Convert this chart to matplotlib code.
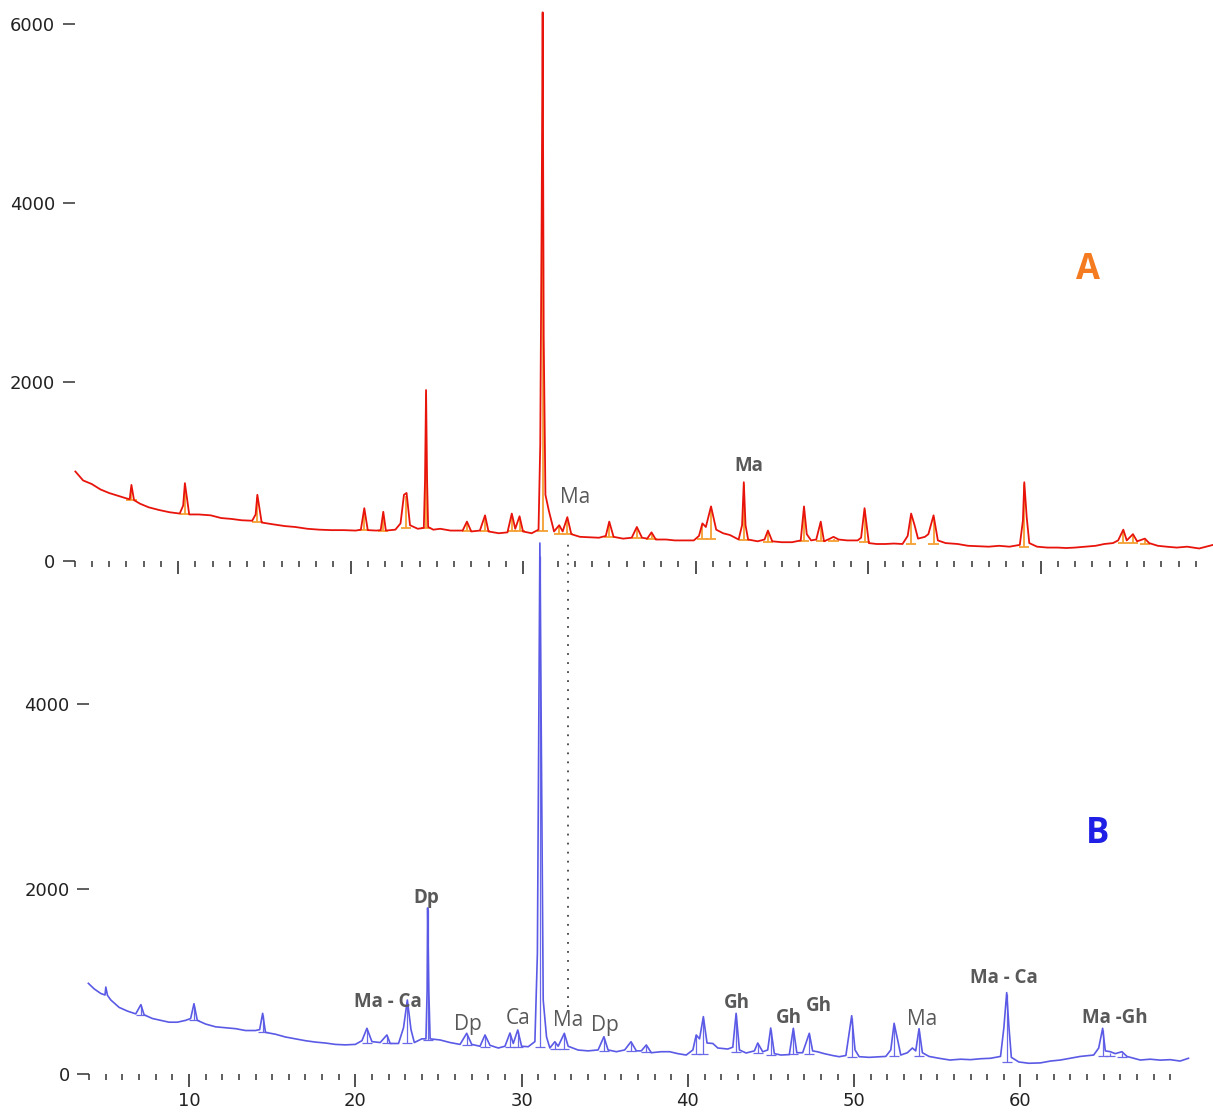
import numpy as np
import matplotlib
matplotlib.use("Agg")
import matplotlib.pyplot as plt
from matplotlib.ticker import FixedLocator

# ── 数据─────────────────────────────────────────────────────────────

# A：红色谱线 (2θ, 强度)
red_x = [4.05, 4.5, 5.0, 5.5, 6.0, 6.5, 7.0, 7.2, 7.3, 7.45, 7.8, 8.3, 8.9, 9.5, 10.1, 10.3, 10.4,
         10.65, 11.2, 11.9, 12.5, 13.1, 13.7, 14.3, 14.5, 14.6, 14.85, 15.5, 16.2, 16.8, 17.5, 18.2,
         18.9, 19.6, 20.3, 20.6, 20.8, 21.0, 21.5, 21.75, 21.9, 22.05, 22.6, 22.9, 23.1, 23.25, 23.45,
         23.9, 24.25, 24.32, 24.38, 24.44, 24.5, 24.8, 25.2, 25.8, 26.5, 26.75, 27.0, 27.5, 27.8, 28.0,
         28.6, 29.1, 29.35, 29.55, 29.8, 30.0, 30.5, 30.9, 31.0, 31.08, 31.14, 31.2, 31.3, 31.5, 31.8,
         32.1, 32.3, 32.57, 32.8, 33.3, 33.8, 34.4, 34.8, 35.0, 35.25, 35.8, 36.3, 36.6, 36.9, 37.2,
         37.45, 37.7, 38.3, 38.8, 39.3, 39.9, 40.2, 40.4, 40.6, 40.9, 41.2, 41.6, 42.0, 42.5, 42.7,
         42.8, 42.9, 43.05, 43.6, 44.0, 44.2, 44.45, 45.0, 45.6, 46.1, 46.29, 46.45, 46.7, 47.0, 47.26,
         47.45, 47.8, 48.0, 48.3, 48.8, 49.4, 49.6, 49.8, 50.05, 50.5, 51.0, 51.5, 52.0, 52.3, 52.5,
         52.7, 52.9, 53.3, 53.5, 53.8, 54.05, 54.5, 55.2, 55.8, 56.4, 57.0, 57.6, 58.2, 58.8, 58.98,
         59.06, 59.2, 59.35, 59.8, 60.4, 61.0, 61.5, 62.0, 62.6, 63.2, 63.7, 64.2, 64.5, 64.8, 65.0,
         65.36, 65.6, 66.05, 66.3, 66.8, 67.3, 67.9, 68.5, 69.2, 70.0]
red_y = [1000, 900, 860, 800, 760, 730, 700, 690, 850, 680, 640, 600, 570, 545, 530, 620, 870,
         520, 520, 510, 480, 470, 455, 450, 520, 740, 430, 410, 390, 380, 360, 350,
         345, 345, 340, 350, 590, 345, 340, 345, 550, 340, 350, 420, 740, 760, 400,
         360, 370, 900, 1910, 900, 380, 350, 360, 340, 340, 440, 330, 340, 510, 330,
         310, 320, 530, 360, 500, 330, 310, 350, 1300, 3800, 6130, 2500, 740, 560, 330,
         400, 330, 490, 300, 270, 265, 260, 280, 440, 270, 250, 260, 380, 260, 250,
         320, 240, 240, 230, 230, 230, 280, 420, 380, 610, 350, 310, 290, 240, 400,
         880, 400, 240, 220, 240, 340, 220, 210, 210, 230, 610, 300, 230, 240, 440,
         220, 250, 270, 240, 230, 230, 260, 590, 200, 190, 190, 195, 190, 280, 530,
         400, 250, 270, 300, 510, 230, 200, 190, 170, 165, 160, 170, 160, 180, 450,
         880, 490, 200, 160, 150, 150, 145, 150, 160, 170, 190, 200, 230, 350, 230,
         300, 220, 250, 200, 170, 160, 150, 160, 140, 180]

# B：蓝色谱线 (2θ, 强度)
blue_x = [3.95, 4.3, 4.7, 4.95, 5.0, 5.1, 5.3, 5.8, 6.3, 6.8, 7.11, 7.3, 7.8, 8.3, 8.8, 9.3, 9.8,
          10.1, 10.3, 10.5, 11.0, 11.6, 12.2, 12.8, 13.4, 14.0, 14.25, 14.43, 14.6, 15.2, 15.8, 16.4,
          17.0, 17.6, 18.2, 18.8, 19.4, 20.0, 20.4, 20.7, 21.0, 21.5, 21.9, 22.1, 22.6, 22.9, 23.13,
          23.35, 23.55, 24.0, 24.25, 24.32, 24.35, 24.42, 24.5, 25.1, 25.7, 26.3, 26.7, 27.0, 27.5,
          27.8, 28.1, 28.6, 29.0, 29.3, 29.5, 29.77, 30.0, 30.4, 30.8, 30.95, 31.05, 31.1, 31.18,
          31.3, 31.5, 31.7, 32.0, 32.2, 32.57, 32.8, 33.4, 34.0, 34.6, 34.95, 35.2, 35.7, 36.2, 36.58,
          36.9, 37.2, 37.5, 37.8, 38.4, 38.9, 39.4, 39.9, 40.3, 40.5, 40.7, 40.93, 41.15, 41.5, 41.8,
          42.4, 42.7, 42.9, 43.1, 43.5, 44.0, 44.2, 44.5, 44.8, 44.98, 45.2, 45.6, 46.1, 46.34, 46.55,
          46.9, 47.3, 47.5, 47.8, 48.2, 48.7, 49.1, 49.5, 49.85, 50.05, 50.3, 50.9, 51.4, 51.9, 52.2,
          52.4, 52.6, 52.8, 53.2, 53.5, 53.7, 53.9, 54.1, 54.5, 55.1, 55.76, 56.4, 57.0, 57.6, 58.2,
          58.8, 59.0, 59.17, 59.3, 59.45, 59.9, 60.5, 61.2, 61.8, 62.4, 63.0, 63.6, 64.4, 64.7, 64.94,
          65.1, 65.4, 65.7, 66.1, 66.4, 66.8, 67.2, 67.8, 68.4, 69.0, 69.6, 70.1]
blue_y = [980, 920, 870, 854, 940, 850, 800, 720, 680, 650, 750, 640, 600, 580, 560, 560, 580,
          600, 760, 580, 540, 510, 500, 490, 470, 470, 480, 656, 450, 430, 400, 380,
          360, 345, 335, 320, 315, 320, 360, 494, 350, 340, 422, 330, 330, 500, 800,
          480, 340, 380, 380, 900, 1795, 900, 380, 368, 340, 320, 440, 320, 300,
          422, 310, 281, 300, 443, 330, 476, 300, 295, 350, 1300, 4200, 5740, 3800,
          800, 400, 281, 349, 300, 440, 300, 259, 250, 260, 403, 260, 241, 260, 349,
          250, 250, 314, 230, 241, 241, 220, 205, 260, 422, 380, 620, 335, 330, 281,
          270, 290, 656, 260, 227, 250, 335, 240, 260, 497, 220, 205, 210, 494, 230,
          230, 440, 250, 240, 220, 200, 187, 200, 630, 260, 187, 180, 185, 190, 260,
          548, 380, 205, 230, 281, 250, 490, 230, 190, 170, 151, 160, 155, 165, 170,
          190, 500, 880, 520, 180, 130, 116, 120, 140, 151, 170, 190, 205, 280, 494,
          250, 241, 220, 241, 190, 170, 151, 160, 150, 155, 140, 170]

# 峰位标记 (位置, 峰顶, 峰底)
red_pk_x = [7.3, 10.4, 14.6, 20.8, 21.9, 23.2, 24.38, 26.75, 27.8, 29.35, 29.8, 31.14, 32.1, 32.57,
            35.0, 36.6, 37.45, 40.4, 40.9, 42.8, 44.2, 46.29, 47.26, 48.0, 49.8, 52.5, 53.8, 59.06,
            64.8, 65.36, 66.05]
red_pk_top = [820, 840, 710, 570, 530, 730, 1880, 420, 490, 510, 480, 6000, 380, 470,
              420, 360, 300, 400, 590, 860, 320, 590, 420, 250, 570, 510, 490, 860,
              330, 280, 230]
red_pk_base = [680, 520, 440, 345, 340, 370, 370, 335, 335, 330, 330, 330, 300, 300,
               270, 255, 245, 250, 250, 230, 215, 225, 220, 225, 210, 190, 195, 160,
               200, 200, 190]

blue_pk_x = [7.11, 10.3, 14.43, 20.7, 21.9, 23.13, 24.35, 26.7, 27.8, 29.3, 29.77, 31.1, 32.0,
             32.57, 34.95, 36.58, 37.5, 40.5, 40.93, 42.9, 44.2, 44.98, 46.34, 47.3, 49.85, 52.4,
             53.9, 59.17, 64.94, 65.4, 66.1]
blue_pk_top = [730, 740, 640, 480, 410, 780, 1770, 420, 410, 430, 460, 5600, 340,
               430, 390, 340, 300, 410, 600, 640, 320, 480, 480, 430, 610, 530,
               470, 860, 480, 230, 230]
blue_pk_base = [640, 580, 450, 330, 330, 330, 370, 310, 290, 290, 290, 290, 270,
                270, 250, 245, 240, 220, 220, 240, 230, 210, 215, 220, 185, 195,
                200, 130, 200, 200, 180]

# 物相标注
b_labels = ["Ma - Ca", "Dp", "Dp", "Ca", "Ma", "Dp", "Gh", "Gh", "Gh", "Ma", "Ma - Ca", "Ma -Gh"]
b_label_x = [21.97, 24.3, 26.8, 29.8, 32.8, 35.0, 42.95, 46.1, 47.9, 54.1, 59.0, 65.7]
b_label_y = [780, 1900, 540, 605, 575, 520, 770, 605, 735, 585, 1040, 605]
b_label_bold = [True, True, False, False, False, False, True, True, True, False, True, True]

a_labels = ["Ma", "Ma"]
a_label_x = [33.0, 43.1]
a_label_y = [715, 1060]
a_label_bold = [False, True]

# ── 绘图 ──────────────────────────────────────────────────────────────────────

W, H = 1213, 1113
fig = plt.figure(figsize=(W / 100, H / 100), dpi=100)

lab_color = "#595959"
lab_family = ["Open Sans", "DejaVu Sans"]

def px_axes(left, right, bottom_px, top_px):
    return fig.add_axes([left / W, (H - bottom_px) / H, (right - left) / W, (bottom_px - top_px) / H])

def style_axes(ax, yticks, show_xlabels):
    ax.set_facecolor("none")
    for s in ax.spines.values():
        s.set_visible(False)
    ax.xaxis.set_major_locator(FixedLocator([10, 20, 30, 40, 50, 60]))
    ax.xaxis.set_minor_locator(FixedLocator(np.arange(4, 70)))
    ax.set_yticks(yticks)
    ax.tick_params(axis="x", which="major", length=9, width=1.2, color="#333333",
                   labelbottom=show_xlabels, labelsize=13, labelcolor="#222222", pad=4)
    ax.tick_params(axis="x", which="minor", length=4, width=1.1, color="#333333")
    ax.tick_params(axis="y", length=9, width=1.1, color="#333333", labelsize=13,
                   labelcolor="#222222", pad=5)

def put_labels(ax, texts, xs, ys, bolds):
    for t, x, y, b in zip(texts, xs, ys, bolds):
        ax.text(x, y, t, ha="center", va="center", fontsize=13.5 if b else 15,
                color=lab_color, family=lab_family, weight="bold" if b else "normal")

# 上图 A
ax_a = px_axes(74.5, 1213, 561, 1.6)
ax_a.set_xlim(4, 70)
ax_a.set_ylim(0, 6250)
style_axes(ax_a, [0, 2000, 4000, 6000], False)
ax_a.vlines(red_pk_x, red_pk_base, red_pk_top, color="#f5a033", lw=1.3, clip_on=False)
ax_a.hlines(red_pk_base, np.array(red_pk_x) - 0.3, np.array(red_pk_x) + 0.3, color="#f5a033", lw=1.3)
ax_a.plot(red_x, red_y, color="#e8140c", lw=1.3, clip_on=False)
put_labels(ax_a, a_labels, a_label_x, a_label_y, a_label_bold)
ax_a.text(62.75, 3250, "A", ha="center", va="center", fontsize=25, color="#f47b20",
          family=lab_family, weight="bold")

# 下图 B
ax_b = px_axes(89.2, 189 + 60.2 * 16.63, 1074, 1074 - 6000 * 0.0925)
ax_b.set_xlim(4, 70.2)
ax_b.set_ylim(0, 6000)
style_axes(ax_b, [0, 2000, 4000], True)
ax_b.vlines(blue_pk_x, blue_pk_base, blue_pk_top, color="#6a6ae8", lw=0.9)
ax_b.hlines(blue_pk_base, np.array(blue_pk_x) - 0.3, np.array(blue_pk_x) + 0.3, color="#6a6ae8", lw=0.9)
ax_b.plot(blue_x, blue_y, color="#5a5ae6", lw=1.2, clip_on=False)
ax_b.plot([32.8, 32.8], [724, 5740], color="#444444", lw=1.3, linestyle=(0, (1, 4)), clip_on=False)
put_labels(ax_b, b_labels, b_label_x, b_label_y, b_label_bold)
ax_b.text(64.66, 2595, "B", ha="center", va="center", fontsize=25, color="#1f1fe6",
          family=lab_family, weight="bold")

plt.savefig("out.png", dpi=100)
plt.close()
